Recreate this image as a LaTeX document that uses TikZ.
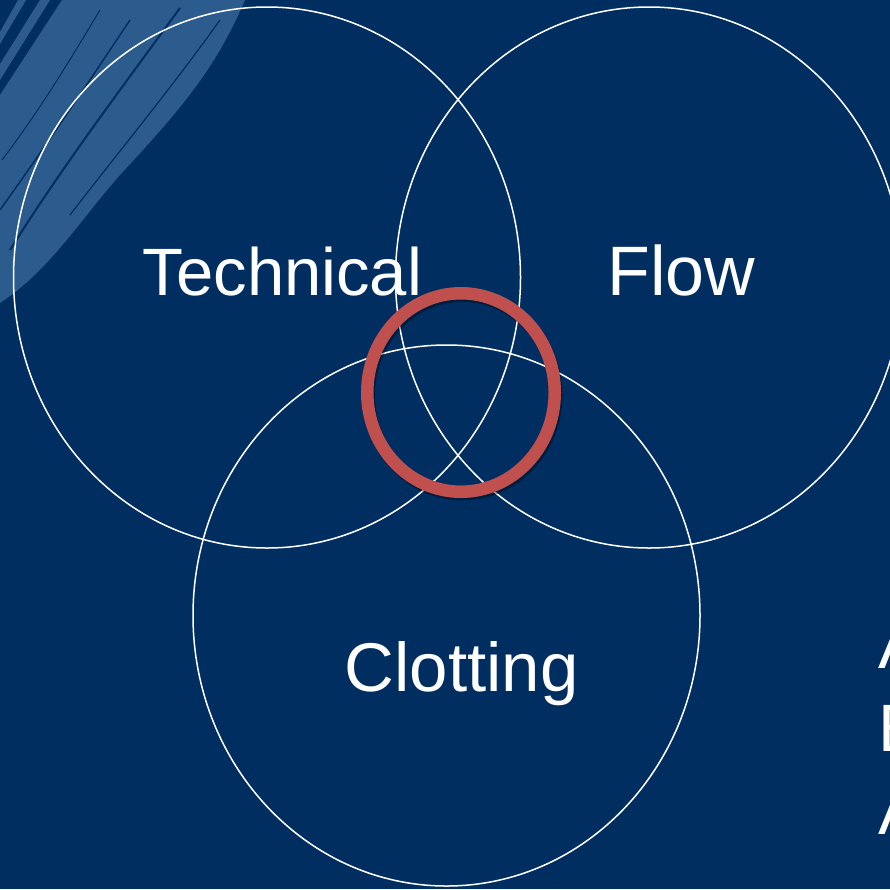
\documentclass[tikz,border=0pt]{standalone}
\usepackage{fontspec}
\setmainfont{Liberation Sans}
\usetikzlibrary{shapes.geometric}
\definecolor{bgnavy}{RGB}{1,46,97}
\definecolor{brush}{RGB}{44,92,142}
\definecolor{ringred}{RGB}{192,80,77}
\tikzset{
  venn/.style={ellipse, draw=white, line width=1.5pt, minimum width=507pt, minimum height=541pt, inner sep=0pt},
  lbl/.style={text=white, font=\fontsize{67}{67}\selectfont, inner sep=0pt, anchor=base west},
  ringstyle/.style={ellipse, line width=12.5pt, minimum width=187.5pt, minimum height=198.5pt, inner sep=0pt},
}
\begin{document}
\begin{tikzpicture}[x=1pt,y=-1pt]
\useasboundingbox (0,0) rectangle (890,889);
\fill[bgnavy] (0,0) rectangle (890,889);
% brush stroke
\fill[brush] (62,0) -- (245,0) .. controls (215,70) and (180,110) .. (120,175)
  .. controls (80,220) and (50,270) .. (0,303) -- (0,95) -- cycle;
\fill[brush] (40,0) -- (50,0) -- (0,80) -- (0,64) -- cycle;
\fill[brush] (18,0) -- (26,0) -- (0,44) -- (0,32) -- cycle;
\fill[brush] (0,150) -- (10,140) -- (0,175) -- cycle;
% dark streaks within the brush
\draw[bgnavy, line width=2pt] (180,8) .. controls (120,90) and (60,170) .. (10,250);
\draw[bgnavy, line width=1.5pt] (130,20) .. controls (90,80) and (50,140) .. (0,210);
\draw[bgnavy, line width=1.2pt] (220,20) .. controls (170,90) and (120,150) .. (70,215);
\draw[bgnavy, line width=1pt] (100,10) .. controls (70,60) and (40,110) .. (2,160);
% Venn ellipses
\node[venn] (tech) at (267,277.5) {};
\node[venn] (flow) at (649,277.5) {};
\node[venn] (clot) at (446.5,615.5) {};
% highlight ring with soft shadow
\node[ringstyle, draw=black, draw opacity=0.35] (coreshadow) at (462.5,395) {};
\node[ringstyle, draw=ringred] (core) at (461,392.5) {};
% labels
\node[lbl] (ttech) at (142.5,295) {Technical};
\node[lbl, font=\fontsize{70}{70}\selectfont] (tflow) at (607.3,295) {Flow};
\node[lbl, font=\fontsize{69}{69}\selectfont] (tclot) at (344.5,691) {Clotting};
\node[lbl] (r1) at (878,668) {A};
\node[lbl] (r2) at (878,751) {E};
\node[lbl] (r3) at (878,834) {A};
\end{tikzpicture}
\end{document}
